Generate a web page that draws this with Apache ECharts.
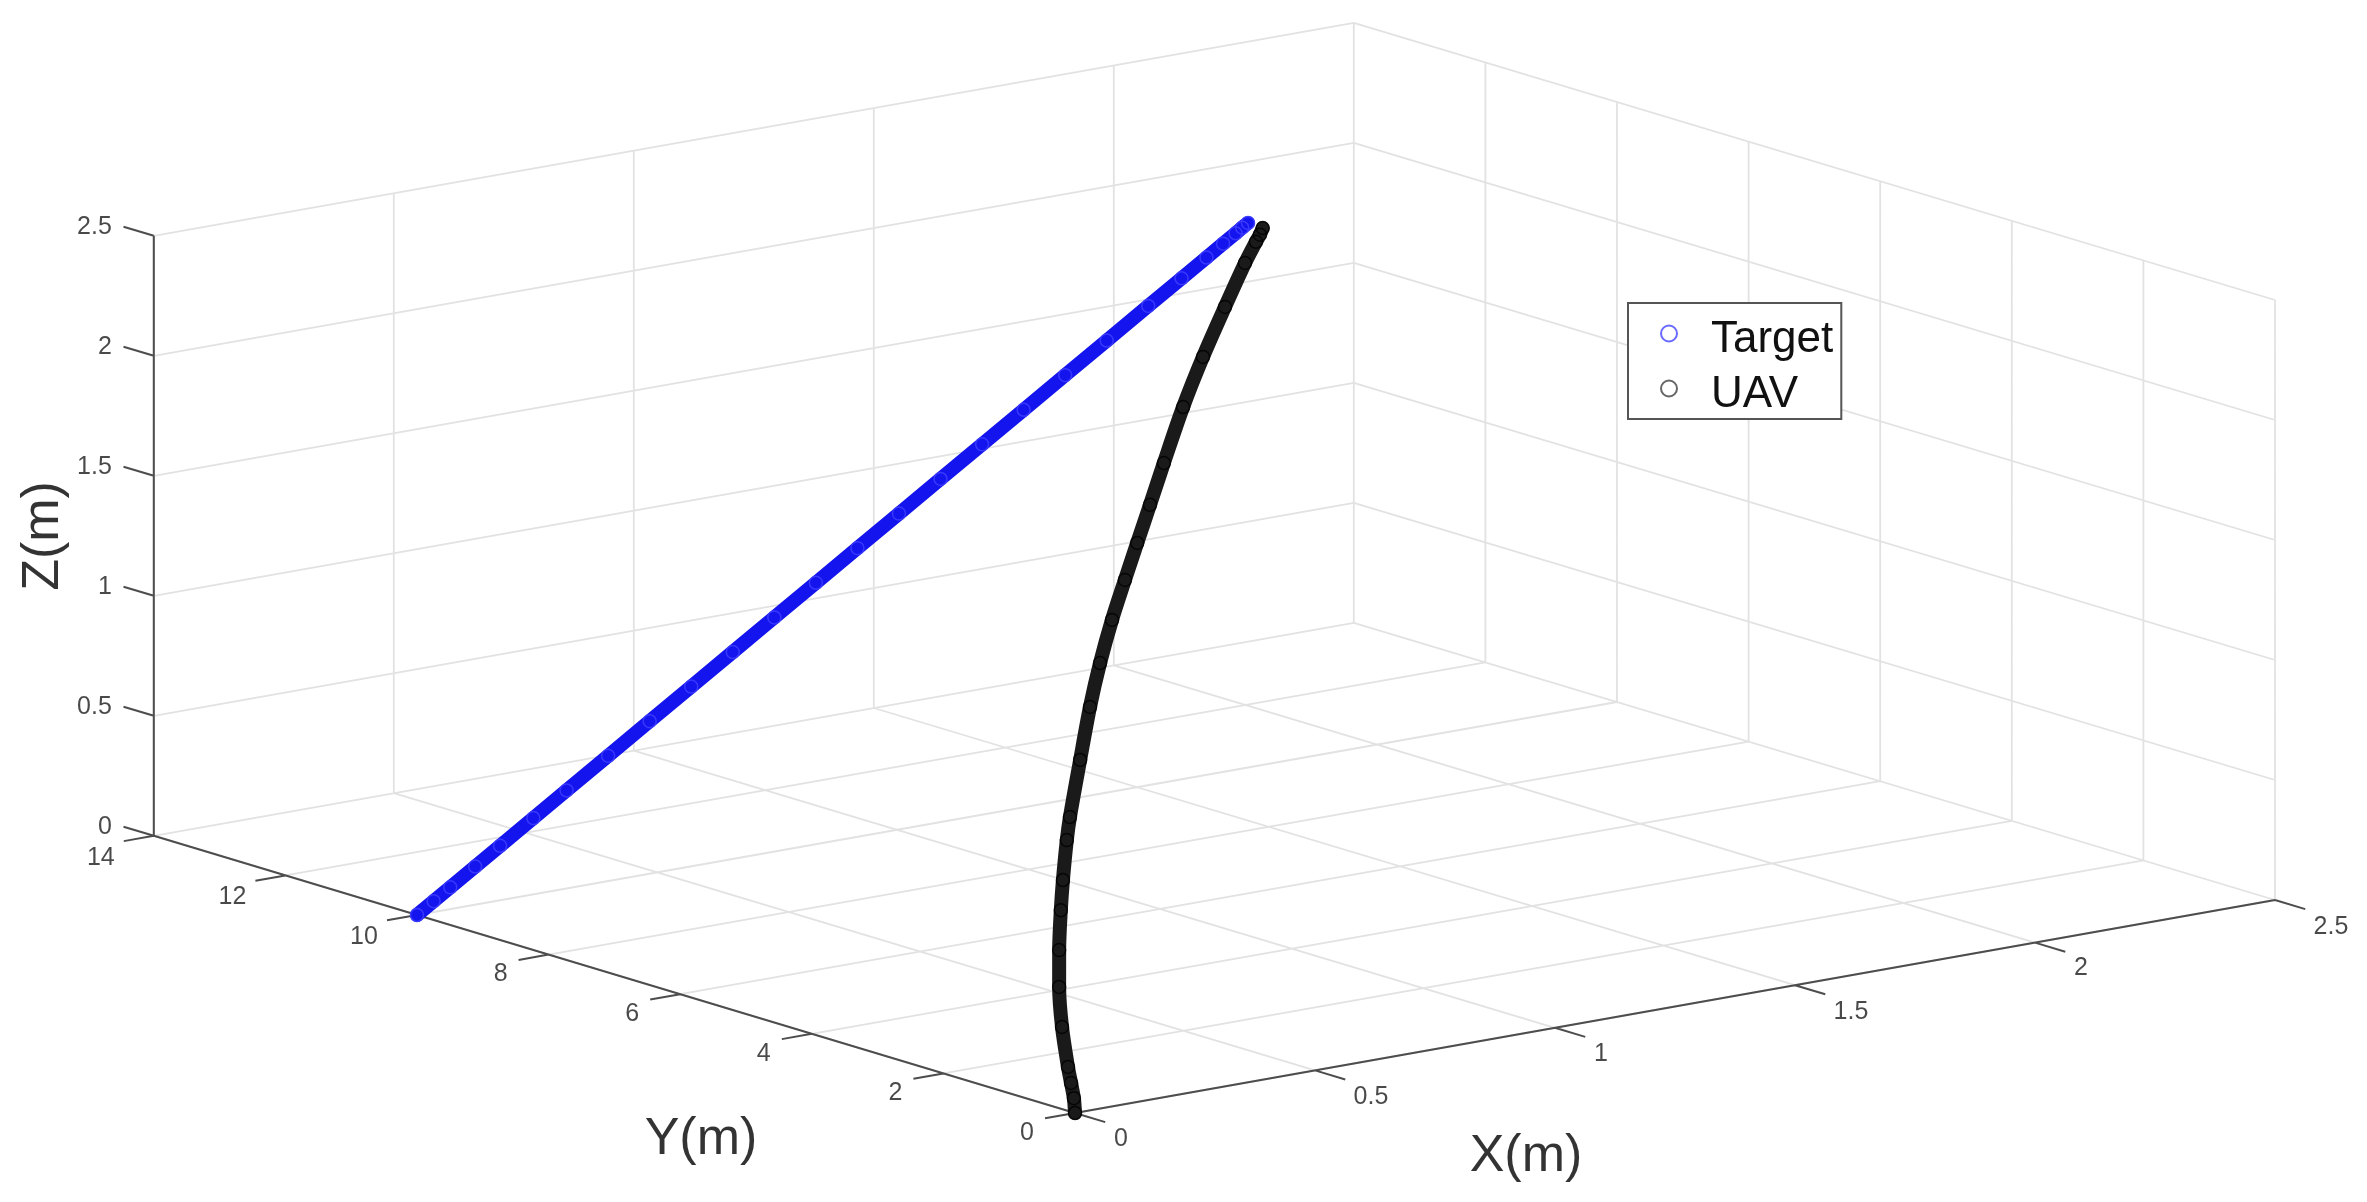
<!DOCTYPE html>
<html>
<head>
<meta charset="utf-8">
<script src="https://cdn.jsdelivr.net/npm/echarts@6/dist/echarts.min.js"></script>
<style>
html,body{margin:0;padding:0;background:#fff}
#c{width:2367px;height:1202px;filter:blur(0.6px)}
</style>
</head>
<body>
<div id="c"></div>
<script>
// Tick values
var xTicks = [0, 0.5, 1, 1.5, 2, 2.5];
var yTicks = [0, 2, 4, 6, 8, 10, 12, 14];
var zTicks = [0, 0.5, 1, 1.5, 2, 2.5];
var xTickLabels = ['0', '0.5', '1', '1.5', '2', '2.5'];
var yTickLabels = ['0', '2', '4', '6', '8', '10', '12', '14'];
var zTickLabels = ['0', '0.5', '1', '1.5', '2', '2.5'];

// Target trajectory, metres
var targetX = [0, .0298, .0596, .1043, .149, .2086, .2682, .3427, .4172, .4917, .5662, .6407, .7152, .7897, .8642, .9387, 1.0132, 1.0877, 1.1622, 1.2367, 1.3112, 1.3708, 1.4155, 1.4453, 1.4677, 1.4796, 1.49];
var targetY = [10, 9.9648, 9.9296, 9.8768, 9.824, 9.7536, 9.6832, 9.5952, 9.5072, 9.4192, 9.3312, 9.2432, 9.1552, 9.0672, 8.9792, 8.8912, 8.8032, 8.7152, 8.6272, 8.5392, 8.4512, 8.3808, 8.328, 8.2928, 8.2664, 8.2524, 8.24];
var targetZ = [0, .05, .10, .175, .25, .35, .45, .575, .70, .825, .95, 1.075, 1.20, 1.325, 1.45, 1.575, 1.70, 1.825, 1.95, 2.075, 2.20, 2.30, 2.375, 2.425, 2.4625, 2.4825, 2.50];

// UAV trajectory, metres
var uavX = [0, .021, .037, .0553, .1036, .156, .208, .266, .311, .372, .4085, .502, .589, .664, .740, .813, .881, .951, 1.028, 1.132, 1.228, 1.327, 1.415, 1.46, 1.475, 1.487];
var uavY = [0, .17, .33, .510, .953, 1.379, 1.758, 2.156, 2.452, 2.838, 3.057, 3.584, 4.069, 4.463, 4.836, 5.172, 5.482, 5.798, 6.149, 6.615, 7.013, 7.401, 7.738, 7.90, 7.95, 7.995];
var uavZ = [0, .04, .085, .130, .243, .356, .460, .573, .658, .771, .836, .997, 1.147, 1.271, 1.393, 1.506, 1.610, 1.718, 1.836, 1.994, 2.136, 2.277, 2.401, 2.46, 2.48, 2.50];

// Orthographic view of the 3D box (MATLAB view)
var ORIGIN = [1075, 1113];
var UX = [480, -85.2], UY = [-65.8, -19.8], UZ = [0, -240];
function project(x, y, z) {
  return [ORIGIN[0] + x * UX[0] + y * UY[0] + z * UZ[0],
          ORIGIN[1] + x * UX[1] + y * UY[1] + z * UZ[1]];
}
function segments(list) {
  var out = [];
  list.forEach(function (s) {
    out.push(project.apply(null, s[0]));
    out.push(project.apply(null, s[1]));
    out.push(['-', '-']);
  });
  return out;
}
function track(xs, ys, zs) {
  return xs.map(function (x, i) { return project(x, ys[i], zs[i]); });
}

var XMAX = 2.5, YMAX = 14, ZMAX = 2.5;
var gridSegs = [];
xTicks.forEach(function (x) {
  gridSegs.push([[x, 0, 0], [x, YMAX, 0]]);
  gridSegs.push([[x, YMAX, 0], [x, YMAX, ZMAX]]);
});
yTicks.forEach(function (y) {
  gridSegs.push([[0, y, 0], [XMAX, y, 0]]);
  gridSegs.push([[XMAX, y, 0], [XMAX, y, ZMAX]]);
});
zTicks.forEach(function (z) {
  gridSegs.push([[0, YMAX, z], [XMAX, YMAX, z]]);
  gridSegs.push([[XMAX, YMAX, z], [XMAX, 0, z]]);
});

var TY = 0.46, TX = 0.0625;
var axisSegs = [
  [[0, 0, 0], [XMAX, 0, 0]],
  [[0, 0, 0], [0, YMAX, 0]],
  [[0, YMAX, 0], [0, YMAX, ZMAX]]
];
xTicks.forEach(function (x) { axisSegs.push([[x, 0, 0], [x, -TY, 0]]); });
yTicks.forEach(function (y) { axisSegs.push([[0, y, 0], [-TX, y, 0]]); });
zTicks.forEach(function (z) { axisSegs.push([[0, YMAX, z], [0, YMAX + TY, z]]); });

var labels = [];
xTicks.forEach(function (x, i) {
  var t = xTickLabels[i];
  var p = project(x, 0, 0);
  var off = t.length > 1 ? [56, 27] : [46, 26];
  labels.push({ value: p, name: t, label: { offset: off, align: 'center' } });
});
yTicks.forEach(function (y, i) {
  var t = yTickLabels[i];
  var p = project(0, y, 0);
  var off = t.length > 1 ? [-53, 22] : [-48, 20];
  labels.push({ value: p, name: t, label: { offset: off, align: 'center' } });
});
zTicks.forEach(function (z, i) {
  var p = project(0, YMAX, z);
  labels.push({ value: p, name: zTickLabels[i], label: { offset: [-42, -9], align: 'right' } });
});

var titles = [
  { value: [1526, 1157], name: 'X(m)', label: {} },
  { value: [701, 1140], name: 'Y(m)', label: {} },
  { value: [44, 536], name: 'Z(m)', label: { rotate: 90 } }
];

function labelSeries(data, size, z, color) {
  return {
    type: 'scatter', silent: true, z: z, symbolSize: 1,
    itemStyle: { color: 'rgba(0,0,0,0)' },
    label: { show: true, position: 'inside', formatter: '{b}', fontFamily: 'Liberation Sans',
             fontSize: size, color: color, verticalAlign: 'middle', align: 'center' },
    data: data
  };
}
function trackSeries(name, data, lineColor, ringColor, z, smooth) {
  return {
    name: name, type: 'line', silent: true, z: z, data: data, smooth: smooth,
    symbol: 'circle', symbolSize: 13, showSymbol: true, showAllSymbol: true,
    lineStyle: { color: lineColor, width: 14, cap: 'round' },
    itemStyle: { color: 'rgba(0,0,0,0)', borderColor: ringColor, borderWidth: 1.5 }
  };
}

var chart = echarts.init(document.getElementById('c'), null, { width: 2367, height: 1202 });
chart.setOption({
  animation: false,
  backgroundColor: '#ffffff',
  grid: { left: 0, right: 0, top: 0, bottom: 0 },
  xAxis: { type: 'value', min: 0, max: 2367, show: false },
  yAxis: { type: 'value', min: 0, max: 1202, inverse: true, show: false },
  legend: {
    orient: 'vertical', left: 1628, top: 303, itemWidth: 74, itemHeight: 16, itemGap: 11,
    padding: [15, 8, 2, 32],
    backgroundColor: '#fff', borderColor: '#555', borderWidth: 2,
    formatter: '{t|{name}}',
    textStyle: {
      fontFamily: 'Liberation Sans', fontSize: 44, color: '#111',
      rich: { t: { fontFamily: 'Liberation Sans', fontSize: 44, color: '#111', padding: [13, 0, 0, 0] } }
    },
    selectedMode: false,
    data: [
      { name: 'Target', icon: 'circle', itemStyle: { color: '#fff', borderColor: '#6a6aff', borderWidth: 2 } },
      { name: 'UAV', icon: 'circle', itemStyle: { color: '#fff', borderColor: '#666', borderWidth: 2 } }
    ]
  },
  series: [
    { type: 'line', silent: true, z: 1, symbol: 'none', connectNulls: false,
      lineStyle: { color: '#e2e2e2', width: 1.8 }, data: segments(gridSegs) },
    { type: 'line', silent: true, z: 2, symbol: 'none', connectNulls: false,
      lineStyle: { color: '#4d4d4d', width: 2 }, data: segments(axisSegs) },
    labelSeries(labels, 25, 2, '#1c1c1c'),
    labelSeries(titles, 52, 2, '#000'),
    trackSeries('Target', track(targetX, targetY, targetZ), '#1414ee', 'rgba(60,60,255,0.9)', 3, false),
    trackSeries('UAV', track(uavX, uavY, uavZ), '#1a1a1a', 'rgba(0,0,0,0.8)', 4, 0.3)
  ]
});
</script>
</body>
</html>
